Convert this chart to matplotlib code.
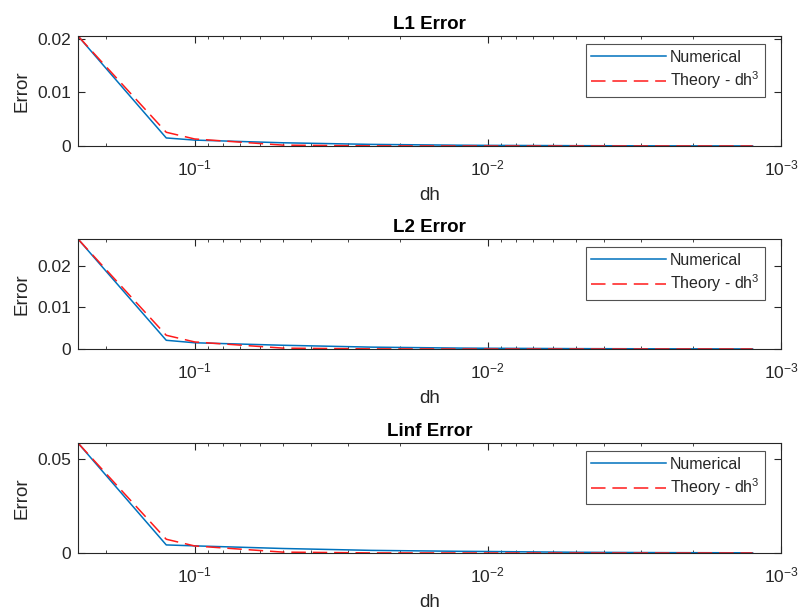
import matplotlib
matplotlib.use('Agg')
import matplotlib.pyplot as plt
import numpy as np
from matplotlib.ticker import FixedLocator, LogLocator, NullFormatter

plt.rcParams['font.family'] = ['Liberation Sans', 'DejaVu Sans']
plt.rcParams['mathtext.default'] = 'regular'

# grid spacings used in the convergence study
dh = [0.25, 0.125, 0.1, 0.05, 0.025, 0.0125, 0.01, 0.005, 0.0025, 0.00125]

# measured errors
l1_num = [0.0205, 0.0015, 0.0011, 0.0006, 0.0003, 0.00015, 0.00012, 0.00006, 0.00003, 0.000015]
l2_num = [0.0265, 0.0021, 0.0015, 0.0009, 0.00045, 0.00022, 0.00018, 0.00009, 0.000045, 0.000022]
linf_num = [0.0586, 0.0043, 0.0038, 0.0024, 0.0014, 0.0009, 0.0008, 0.0004, 0.0002, 0.0001]

# cubic reference curves, anchored at the coarsest grid
l1_th = [0.0205, 0.00256, 0.00131, 0.000164, 2.05e-5, 2.6e-6, 1.3e-6, 1.6e-7, 2.0e-8, 2.6e-9]
l2_th = [0.0265, 0.00331, 0.0017, 0.000212, 2.65e-5, 3.3e-6, 1.7e-6, 2.1e-7, 2.6e-8, 3.3e-9]
linf_th = [0.0586, 0.00733, 0.00375, 0.000469, 5.9e-5, 7.3e-6, 3.75e-6, 4.7e-7, 5.9e-8, 7.3e-9]

titles = ['L1 Error', 'L2 Error', 'Linf Error']
yticks = [[0, 0.01, 0.02], [0, 0.01, 0.02], [0, 0.05]]
xticks = [0.1, 0.01, 0.001]
xticklabels = ['$10^{-1}$', '$10^{-2}$', '$10^{-3}$']

num_sets = [l1_num, l2_num, linf_num]
th_sets = [l1_th, l2_th, linf_th]

ink = '#262626'
W, H = 800, 614
fig = plt.figure(figsize=(W / 100, H / 100), dpi=100)

# axes boxes in pixels: (top, bottom)
boxes = [(36, 146), (239, 349), (443, 553)]
left_px, right_px = 78, 781

for (top, bot), title, num, th, yt in zip(boxes, titles, num_sets, th_sets, yticks):
    ax = fig.add_axes([left_px / W, 1 - bot / H, (right_px - left_px) / W, (bot - top) / H])
    ax.plot(dh, num, color='#0072BD', lw=1.1, label='Numerical')
    ax.plot(dh, th, color='#ff1a1a', lw=1.1, ls=(0, (9.5, 4.5)), label='Theory - dh$^3$')
    ax.set_xscale('log')
    ax.set_xlim(0.25, 0.001)
    ax.set_ylim(0, max(num[0], th[0]))
    ax.set_xticks(xticks)
    ax.set_xticklabels(xticklabels)
    ax.xaxis.set_minor_locator(LogLocator(base=10, subs=np.arange(2, 10)))
    ax.xaxis.set_minor_formatter(NullFormatter())
    ax.yaxis.set_major_locator(FixedLocator(yt))
    ax.set_yticklabels([f'{v:g}' for v in yt])
    ax.tick_params(which='both', direction='in', top=True, right=True,
                   colors=ink, labelsize=12.5, labelcolor=ink)
    ax.tick_params(which='major', length=5, width=0.8)
    ax.tick_params(which='minor', length=2.5, width=0.6)
    ax.tick_params(axis='x', pad=9)
    ax.tick_params(axis='y', pad=5)
    for s in ax.spines.values():
        s.set_color(ink)
        s.set_linewidth(0.8)
    ax.set_title(title, fontsize=13.5, fontweight='bold', color='black', pad=5)
    ax.set_xlabel('dh', fontsize=13.5, color=ink, labelpad=6)
    ax.set_ylabel('Error', fontsize=13.5, color=ink, labelpad=5)
    leg = ax.legend(loc='upper right', fontsize=11.5, frameon=True, fancybox=False,
                    edgecolor=ink, handlelength=4.7, handletextpad=0.2,
                    borderpad=0.35, labelspacing=0.3, borderaxespad=0,
                    bbox_to_anchor=(0.977, 0.927))
    leg.get_frame().set_linewidth(0.8)
    for t in leg.get_texts():
        t.set_color(ink)

fig.savefig('out.png', dpi=100, facecolor='white')
